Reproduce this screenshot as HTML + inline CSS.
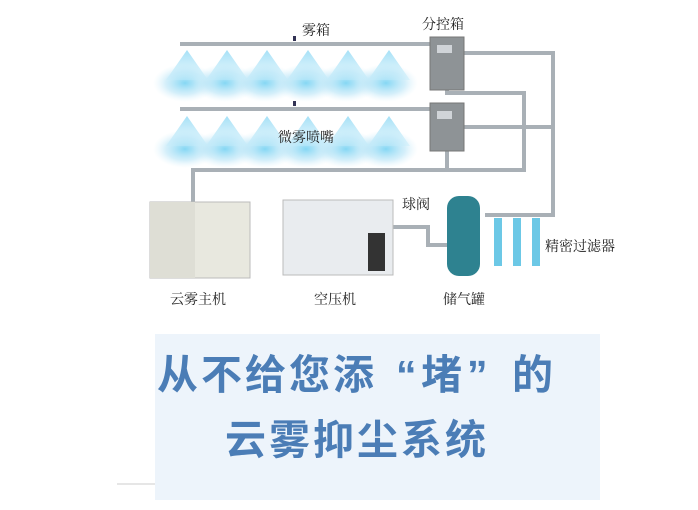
<!DOCTYPE html>
<html><head><meta charset="utf-8"><style>
html,body{margin:0;padding:0;background:#fff;width:698px;height:510px;overflow:hidden;position:relative;font-family:"Liberation Serif","Noto Serif CJK SC",serif}
.l{position:absolute;font-size:14px;color:#222;white-space:nowrap}
.box{position:absolute;left:155px;top:334px;width:445px;height:166px;background:#edf4fb}
.t{position:absolute;font-family:"Liberation Sans","Noto Sans CJK SC",sans-serif;font-weight:bold;color:#4b7db6;font-size:41px;white-space:nowrap;line-height:1}
</style></head><body>
<svg width="698" height="510" style="position:absolute;left:0;top:0">
<defs>
<radialGradient id="m" cx="50%" cy="50%" r="50%"><stop offset="0" stop-color="#6fd0f2" stop-opacity=".85"/><stop offset=".6" stop-color="#a9dff5" stop-opacity=".5"/><stop offset="1" stop-color="#d5f0fb" stop-opacity="0"/></radialGradient>
<linearGradient id="c" x1="0" y1="0" x2="0" y2="1"><stop offset="0" stop-color="#7fd3f3" stop-opacity=".7"/><stop offset="1" stop-color="#c5ecfa" stop-opacity=".4"/></linearGradient>
</defs>
<g id="row1">
<ellipse cx="185" cy="83" rx="32" ry="19" fill="url(#m)"/><ellipse cx="225" cy="83" rx="32" ry="19" fill="url(#m)"/><ellipse cx="265" cy="83" rx="32" ry="19" fill="url(#m)"/><ellipse cx="306" cy="83" rx="32" ry="19" fill="url(#m)"/><ellipse cx="346" cy="83" rx="32" ry="19" fill="url(#m)"/><ellipse cx="386" cy="83" rx="32" ry="19" fill="url(#m)"/>
<path d="M187,50 L166,80 L208,80Z M227,50 L206,80 L248,80Z M267,50 L246,80 L288,80Z M308,50 L287,80 L329,80Z M348,50 L327,80 L369,80Z M389,50 L368,80 L410,80Z" fill="url(#c)"/>
</g>
<use href="#row1" y="66"/>
<g stroke="#a9b0b6" stroke-width="4" fill="none">
<path d="M180,44 H432"/><path d="M180,109 H432"/>
<path d="M463,53 H553 V215 H485"/>
<path d="M447,90 V93 H524 V170 H193 V202"/>
<path d="M463,127 H553"/><path d="M447,150 V170"/>
<path d="M392,227 H428 V245 H447"/>
</g>
<rect x="293" y="36" width="3" height="5" fill="#335"/><rect x="293" y="101" width="3" height="5" fill="#335"/>
<rect x="430" y="37" width="34" height="53" fill="#8e9396" stroke="#777"/><rect x="437" y="45" width="15" height="8" fill="#d0d4d8"/>
<rect x="430" y="103" width="34" height="48" fill="#8e9396" stroke="#777"/><rect x="437" y="111" width="15" height="8" fill="#d0d4d8"/>
<rect x="150" y="202" width="100" height="76" fill="#e8e8df" stroke="#bbb"/><rect x="150" y="202" width="45" height="76" fill="#deded5"/>
<rect x="283" y="200" width="110" height="75" fill="#e9ecef" stroke="#bbb"/><rect x="368" y="233" width="17" height="38" fill="#333"/>
<rect x="447" y="196" width="33" height="80" rx="12" fill="#2e8290"/>
<rect x="494" y="218" width="8" height="48" fill="#6cc8e6"/><rect x="513" y="218" width="8" height="48" fill="#6cc8e6"/><rect x="532" y="218" width="8" height="48" fill="#6cc8e6"/>
<line x1="117" y1="484" x2="428" y2="484" stroke="#ccc"/>
</svg>
<div class="l" style="left:302px;top:20px">雾箱</div>
<div class="l" style="left:422px;top:14px">分控箱</div>
<div class="l" style="left:278px;top:127px">微雾喷嘴</div>
<div class="l" style="left:402px;top:194px">球阀</div>
<div class="l" style="left:545px;top:236px">精密过滤器</div>
<div class="l" style="left:170px;top:289px">云雾主机</div>
<div class="l" style="left:314px;top:289px">空压机</div>
<div class="l" style="left:443px;top:289px">储气罐</div>
<div class="box"></div>
<div class="t" style="left:157px;top:355px;letter-spacing:3px">从不给您添</div>
<div class="t" style="left:396px;top:355px">“</div>
<div class="t" style="left:421px;top:355px">堵</div>
<div class="t" style="left:467px;top:355px">”</div>
<div class="t" style="left:512px;top:355px">的</div>
<div class="t" style="left:225px;top:420px;letter-spacing:3px">云雾抑尘系统</div>
</body></html>
